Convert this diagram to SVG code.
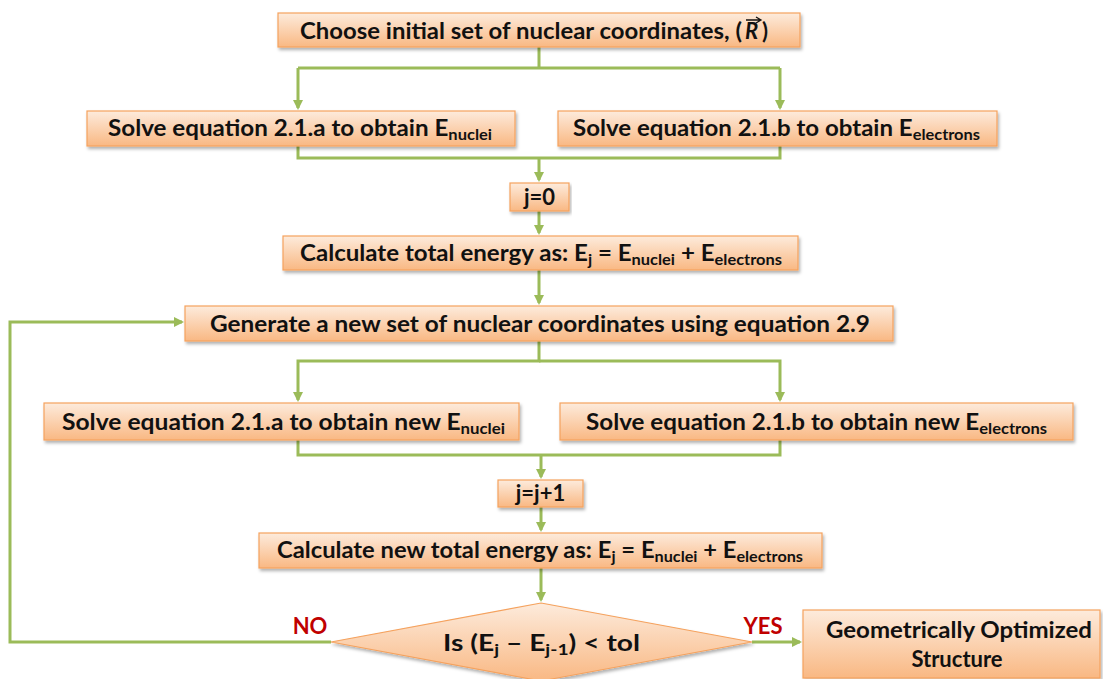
<svg xmlns="http://www.w3.org/2000/svg" width="1103" height="679" viewBox="0 0 1103 679">
<defs>
<linearGradient id="g" x1="0" y1="0" x2="0" y2="1">
<stop offset="0" stop-color="#FDEBDC"/>
<stop offset="1" stop-color="#F9B883"/>
</linearGradient>
<filter id="sh" x="-5%" y="-20%" width="110%" height="150%">
<feDropShadow dx="1.5" dy="2.5" stdDeviation="1.5" flood-color="#000" flood-opacity="0.3"/>
</filter>
<marker id="ah" markerWidth="10" markerHeight="10" refX="8" refY="5" orient="auto" markerUnits="userSpaceOnUse">
<path d="M0,0 L10,5 L0,10 z" fill="#9BBB59"/>
</marker>
<style>
.box{fill:url(#g);stroke:#F5A25E;stroke-width:1.2;filter:url(#sh)}
.t{font-family:Lato,"Liberation Sans",sans-serif;font-weight:bold;font-size:22px;fill:#111}
.s{font-size:15px}
.c{fill:none;stroke:#9BBB59;stroke-width:3}
.lbl{font-family:Lato,"Liberation Sans",sans-serif;font-weight:bold;font-size:22px;fill:#C00000}
</style>
</defs>
<g id="connectors">
<path class="c" d="M539,47 V68 M298,68 H780 M298,68 V108" marker-end="url(#ah)"/>
<path class="c" d="M780,68 V108" marker-end="url(#ah)"/>
<path class="c" d="M298,146 V158 H780 V146 M539,158 V180" marker-end="url(#ah)"/>
<path class="c" d="M539,211 V233" marker-end="url(#ah)"/>
<path class="c" d="M539,270 V303" marker-end="url(#ah)"/>
<path class="c" d="M539,341 V361 H298 V400" marker-end="url(#ah)"/>
<path class="c" d="M539,361 H780 V400" marker-end="url(#ah)"/>
<path class="c" d="M298,440 V455 H780 V440 M541,455 V477" marker-end="url(#ah)"/>
<path class="c" d="M541,507 V530" marker-end="url(#ah)"/>
<path class="c" d="M541,568 V600" marker-end="url(#ah)"/>
<path class="c" d="M331,642 H10 V322 H182" marker-end="url(#ah)"/>
<path class="c" d="M752,642 H800" marker-end="url(#ah)"/>
</g>
<g id="n1">
<rect class="box" x="278" y="13" width="522" height="34"/>
<text class="t" x="300" y="39" textLength="442" lengthAdjust="spacingAndGlyphs">Choose initial set of nuclear coordinates, (</text>
<text class="t" x="745" y="39" font-family="'Liberation Serif',serif" font-style="italic">R</text>
<text class="t" x="762" y="39">)</text>
<path d="M746,20 H760 M756,17 L761,20 L756,23" fill="none" stroke="#111" stroke-width="1.3"/>
</g>
<g id="n2">
<rect class="box" x="87" y="111" width="428" height="35"/>
<text class="t" x="108" y="136" textLength="384" lengthAdjust="spacingAndGlyphs">Solve equation 2.1.a to obtain E<tspan class="s" dy="4">nuclei</tspan></text>
</g>
<g id="n3">
<rect class="box" x="558" y="111" width="439" height="35"/>
<text class="t" x="573" y="136" textLength="407" lengthAdjust="spacingAndGlyphs">Solve equation 2.1.b to obtain E<tspan class="s" dy="4">electrons</tspan></text>
</g>
<g id="n4">
<rect class="box" x="510" y="183" width="59" height="28"/>
<text class="t" x="539.5" y="205" text-anchor="middle">j=0</text>
</g>
<g id="n5">
<rect class="box" x="283" y="236" width="515" height="34"/>
<text class="t" x="300" y="261" textLength="482" lengthAdjust="spacingAndGlyphs">Calculate total energy as: E<tspan class="s" dy="4">j</tspan><tspan dy="-4"> = E</tspan><tspan class="s" dy="4">nuclei</tspan><tspan dy="-4"> + E</tspan><tspan class="s" dy="4">electrons</tspan></text>
</g>
<g id="n6">
<rect class="box" x="185" y="306" width="708" height="35"/>
<text class="t" x="210" y="332" textLength="660" lengthAdjust="spacingAndGlyphs">Generate a new set of nuclear coordinates using equation 2.9</text>
</g>
<g id="n7">
<rect class="box" x="44" y="403" width="475" height="37"/>
<text class="t" x="62" y="430" textLength="443" lengthAdjust="spacingAndGlyphs">Solve equation 2.1.a to obtain new E<tspan class="s" dy="4">nuclei</tspan></text>
</g>
<g id="n8">
<rect class="box" x="560" y="403" width="513" height="37"/>
<text class="t" x="586" y="430" textLength="461" lengthAdjust="spacingAndGlyphs">Solve equation 2.1.b to obtain new E<tspan class="s" dy="4">electrons</tspan></text>
</g>
<g id="n9">
<rect class="box" x="498" y="480" width="85" height="27"/>
<text class="t" x="540.5" y="501" text-anchor="middle">j=j+1</text>
</g>
<g id="n10">
<rect class="box" x="259" y="533" width="563" height="35"/>
<text class="t" x="277" y="558" textLength="526" lengthAdjust="spacingAndGlyphs">Calculate new total energy as: E<tspan class="s" dy="4">j</tspan><tspan dy="-4"> = E</tspan><tspan class="s" dy="4">nuclei</tspan><tspan dy="-4"> + E</tspan><tspan class="s" dy="4">electrons</tspan></text>
</g>
<g id="n11">
<path class="box" d="M541,603 L752,642 L541,681 L331,642 Z"/>
<text class="t" x="443" y="651" textLength="197" lengthAdjust="spacingAndGlyphs">Is (E<tspan class="s" dy="4">j</tspan><tspan dy="-4"> – E</tspan><tspan class="s" dy="4">j-1</tspan><tspan dy="-4">) &lt; tol</tspan></text>
<text class="lbl" x="310" y="634" text-anchor="middle">NO</text>
<text class="lbl" x="763" y="634" text-anchor="middle">YES</text>
</g>
<g id="n12">
<rect class="box" x="803" y="610" width="297" height="68"/>
<text class="t" x="959" y="638" text-anchor="middle" textLength="266" lengthAdjust="spacingAndGlyphs">Geometrically Optimized</text>
<text class="t" x="957" y="667" text-anchor="middle">Structure</text>
</g>
</svg>
